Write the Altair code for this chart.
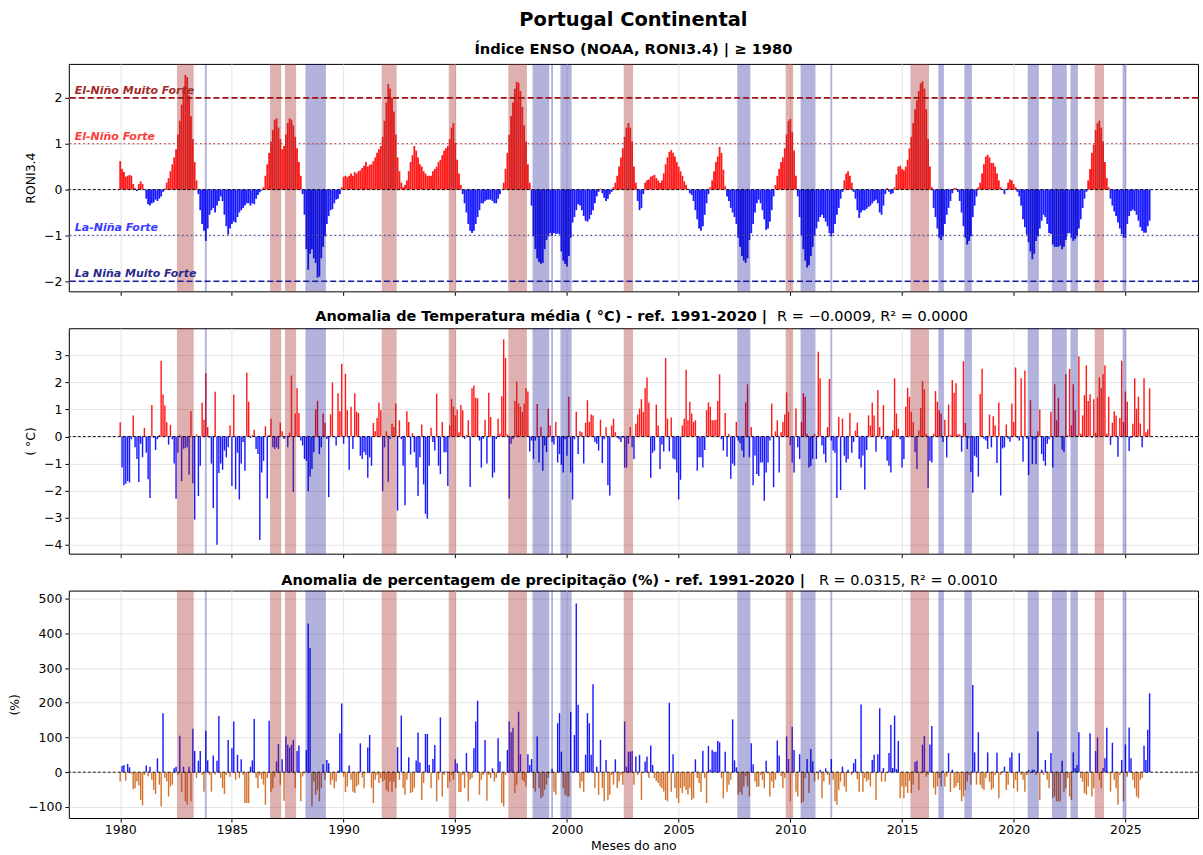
import altair as alt
import pandas as pd

# ---------------- data (monthly, Jan 1980 .. Feb 2026) ----------------
RONI = [
    [0.62, 0.45, 0.38, 0.28, 0.3, 0.32, 0.3, 0.12, 0.03, -0.03, 0.12, 0.18],        # 1980
    [0.12, 0.0, -0.2, -0.32, -0.35, -0.3, -0.28, -0.22, -0.25, -0.2, -0.15, -0.05],  # 1981
    [0.02, 0.15, 0.25, 0.4, 0.55, 0.7, 0.88, 1.2, 1.5, 1.85, 2.2, 2.5],
    [2.45, 2.05, 1.6, 1.1, 0.6, 0.2, -0.1, -0.45, -0.75, -0.9, -1.12, -0.85],
    [-0.55, -0.45, -0.4, -0.5, -0.35, -0.25, -0.15, -0.25, -0.55, -0.8, -0.98, -0.85],
    [-0.75, -0.7, -0.72, -0.6, -0.5, -0.45, -0.4, -0.35, -0.3, -0.3, -0.35, -0.3],
    [-0.32, -0.2, -0.12, -0.06, -0.02, 0.05, 0.3, 0.55, 0.8, 1.05, 1.3, 1.52],
    [1.55, 1.35, 1.1, 0.88, 0.95, 1.2, 1.45, 1.55, 1.52, 1.4, 1.15, 0.9],
    [0.6, 0.3, -0.1, -0.55, -1.3, -1.75, -1.4, -1.3, -1.5, -1.6, -1.92, -1.9],
    [-1.5, -1.25, -1.02, -0.75, -0.58, -0.45, -0.43, -0.3, -0.22, -0.2, -0.1, 0.05],
    [0.28, 0.3, 0.27, 0.3, 0.35, 0.3, 0.38, 0.35, 0.4, 0.42, 0.47, 0.52],            # 1990
    [0.6, 0.5, 0.54, 0.55, 0.62, 0.7, 0.8, 0.88, 0.95, 1.15, 1.5, 1.9],
    [2.3, 2.2, 2.0, 1.7, 1.2, 0.7, 0.4, 0.15, 0.05, 0.1, 0.2, 0.4],
    [0.6, 0.75, 0.95, 0.85, 0.7, 0.55, 0.5, 0.4, 0.35, 0.3, 0.3, 0.3],
    [0.4, 0.45, 0.5, 0.6, 0.65, 0.75, 0.85, 0.9, 0.95, 1.1, 1.35, 1.45],
    [1.02, 0.65, 0.35, 0.1, -0.1, -0.3, -0.5, -0.75, -0.9, -0.95, -0.9, -0.75],
    [-0.6, -0.45, -0.3, -0.3, -0.25, -0.22, -0.22, -0.22, -0.25, -0.3, -0.3, -0.2],
    [-0.1, 0.0, 0.15, 0.45, 0.8, 1.2, 1.6, 1.9, 2.2, 2.35, 2.33, 2.15],
    [1.8, 1.4, 1.05, 0.55, 0.15, -0.35, -1.02, -1.3, -1.5, -1.58, -1.62, -1.6],
    [-1.3, -1.1, -1.02, -0.95, -1.01, -0.95, -0.97, -0.96, -0.98, -1.35, -1.55, -1.62],
    [-1.68, -1.45, -1.05, -0.72, -0.6, -0.45, -0.32, -0.35, -0.45, -0.58, -0.68, -0.7],  # 2000
    [-0.65, -0.55, -0.45, -0.3, -0.15, -0.05, 0.02, -0.08, -0.18, -0.25, -0.2, -0.1],
    [-0.05, 0.05, 0.15, 0.3, 0.5, 0.7, 0.9, 1.15, 1.35, 1.45, 1.35, 1.05],
    [0.5, 0.15, -0.25, -0.45, -0.4, -0.1, 0.15, 0.2, 0.22, 0.28, 0.3, 0.32],
    [0.25, 0.2, 0.15, 0.2, 0.35, 0.55, 0.7, 0.82, 0.86, 0.8, 0.72, 0.6],
    [0.5, 0.4, 0.3, 0.18, 0.1, 0.02, -0.08, -0.12, -0.25, -0.45, -0.65, -0.85],
    [-0.9, -0.8, -0.55, -0.3, -0.1, 0.05, 0.2, 0.4, 0.6, 0.72, 0.93, 0.8],
    [0.43, 0.07, -0.15, -0.25, -0.4, -0.5, -0.6, -0.75, -1.05, -1.25, -1.45, -1.55],
    [-1.6, -1.5, -1.1, -0.95, -0.75, -0.5, -0.3, -0.22, -0.3, -0.45, -0.65, -0.88],
    [-0.85, -0.7, -0.45, -0.15, 0.1, 0.3, 0.45, 0.6, 0.7, 0.9, 1.2, 1.5],
    [1.54, 1.25, 0.85, 0.3, -0.15, -0.6, -1.0, -1.3, -1.55, -1.7, -1.65, -1.45],     # 2010
    [-1.25, -1.0, -0.85, -0.7, -0.6, -0.55, -0.62, -0.7, -0.8, -0.95, -1.02, -0.95],
    [-0.75, -0.55, -0.4, -0.2, -0.05, 0.2, 0.35, 0.4, 0.3, 0.15, -0.05, -0.2],
    [-0.45, -0.62, -0.5, -0.45, -0.45, -0.42, -0.38, -0.35, -0.3, -0.25, -0.22, -0.3],
    [-0.5, -0.55, -0.35, -0.1, 0.03, -0.05, -0.1, -0.08, 0.05, 0.33, 0.5, 0.52],
    [0.45, 0.42, 0.5, 0.65, 0.9, 1.15, 1.45, 1.75, 1.95, 2.15, 2.32, 2.36],
    [2.2, 1.75, 1.1, 0.5, 0.05, -0.4, -0.6, -0.85, -1.05, -1.1, -1.02, -0.75],
    [-0.55, -0.4, -0.25, -0.08, 0.03, 0.03, -0.05, -0.25, -0.5, -0.8, -1.05, -1.2],
    [-1.12, -1.02, -0.6, -0.35, -0.15, 0.05, 0.15, 0.35, 0.55, 0.72, 0.76, 0.7],
    [0.58, 0.58, 0.5, 0.35, 0.2, 0.05, 0.01, -0.1, 0.02, 0.15, 0.22, 0.2],
    [0.12, 0.05, -0.05, -0.15, -0.35, -0.65, -0.82, -0.98, -1.15, -1.35, -1.52, -1.4],  # 2020
    [-1.12, -1.02, -0.85, -0.68, -0.55, -0.6, -0.75, -0.95, -0.97, -1.2, -1.25, -1.25],
    [-1.25, -1.22, -1.3, -1.25, -1.1, -0.96, -0.95, -1.05, -1.12, -1.08, -1.02, -0.85],
    [-0.65, -0.4, -0.2, -0.05, 0.2, 0.45, 0.8, 0.98, 1.3, 1.45, 1.5, 1.35],
    [1.05, 0.6, 0.25, 0.05, -0.2, -0.35, -0.48, -0.58, -0.72, -0.85, -0.97, -1.05],
    [-1.05, -0.75, -0.58, -0.47, -0.44, -0.47, -0.55, -0.68, -0.82, -0.9, -0.94, -0.94],
    [-0.8, -0.68],                                                                   # 2026
]

TEMP = [
    [0.53, -1.15, -1.8, -1.75, -1.65, -1.7, -0.1, 0.78, -0.4, -0.83, -1.68, -0.27],
    [-0.77, 0.32, -0.6, -1.58, -2.27, 1.16, -0.05, -0.5, -0.1, 0.05, 2.8, 1.55],
    [1.15, 0.53, -0.3, 0.43, -0.1, -1.0, -2.3, -0.6, 0.05, -1.65, -0.45, -0.43],
    [-0.4, -1.4, 0.93, -1.73, -3.07, 0.07, -2.2, -1.08, 1.25, 0.62, 2.34, 0.35],
    [-0.05, -1.0, -2.64, 1.65, -4.0, -1.35, -1.0, -1.23, -0.52, -0.77, -0.4, 0.41],
    [-1.83, 1.55, -1.95, -0.6, -2.33, -1.0, -0.2, -1.27, 2.36, 1.28, -0.05, 0.05],
    [0.25, -0.46, -0.65, -3.82, -1.33, -0.9, 0.38, -2.29, 0.06, 0.66, -0.4, -0.46],
    [-0.4, -0.46, 0.51, 0.19, -0.09, -0.03, -0.4, 0.14, 2.25, -2.05, 0.85, 1.78],
    [0.87, -0.15, -0.33, -0.83, -0.9, -2.02, -1.48, -1.2, -0.58, 1.0, 1.32, -0.65],
    [-0.4, 0.85, 0.51, -0.09, -2.24, 0.82, 2.0, -0.03, -0.33, 1.6, 0.93, 2.69],
    [-0.27, 2.32, 0.97, -1.23, 1.1, -0.46, 1.6, 0.91, 0.87, -0.71, -0.83, -0.58],
    [-0.68, -1.52, -0.77, -1.08, 0.5, 0.19, 0.68, 1.26, 0.97, -2.02, -0.4, 0.19],
    [-1.67, -0.09, 0.47, 0.35, 1.22, -2.74, 0.6, -0.09, -1.08, -2.54, 0.93, 0.54],
    [-0.67, 0.12, -0.58, -1.15, -2.2, -0.77, 0.44, -1.77, -2.86, -3.04, -1.08, 0.32],
    [-0.2, -0.52, 1.58, -1.08, -1.39, 0.54, -0.58, -0.58, -1.83, 0.41, 1.38, 1.1],
    [0.78, 1.0, 0.16, 1.16, 0.97, -0.09, 0.05, 0.6, -1.87, 1.78, 1.88, 1.43],
    [1.41, -0.15, -1.15, -0.09, 0.62, -1.0, 1.62, 0.72, -1.52, -1.33, -0.09, 0.66],
    [0.1, 1.49, 3.59, 2.9, 0.07, -2.29, -0.27, -0.09, 1.31, 2.03, 1.22, 1.1],
    [0.91, 1.22, 1.78, 1.66, -0.55, -0.15, -0.83, -0.15, 1.2, -0.96, 0.35, -1.27],
    [-0.33, -0.58, 1.03, 0.41, -0.2, -0.3, 0.54, -0.96, -0.65, -1.05, -1.33, -0.1],
    [-0.71, 1.47, -1.33, -2.33, -0.1, 0.91, -0.65, 0.19, 0.16, -1.0, 0.51, 1.34],
    [0.54, 0.81, 0.78, -0.2, -0.27, -0.52, 0.62, -0.98, -0.1, 0.35, -1.8, -2.18],
    [0.41, 0.66, 0.16, -0.05, -0.1, -0.2, -0.05, -1.15, -1.15, -0.27, 0.35, -0.4],
    [-0.83, 0.47, 0.81, 1.03, 1.38, 0.91, 1.78, 2.18, 1.26, -1.52, -0.6, -0.52],
    [1.18, 0.41, -1.2, -0.3, -0.55, 2.9, 0.66, -0.55, 0.7, -0.81, -0.85, -1.33],
    [-2.33, -1.6, 0.41, 0.66, 2.47, 0.6, 1.28, 0.85, 0.54, 0.6, -1.27, -0.77],
    [-0.77, -1.15, -0.5, 0.97, 1.26, 1.1, 0.6, 0.6, 0.62, 1.31, 2.3, -0.1],
    [-0.52, 0.87, -0.75, 0.1, -1.56, -1.0, -1.08, 0.54, -0.15, -0.25, -0.52, -0.77],
    [1.26, 1.93, -0.77, 0.35, -1.8, -0.7, -1.39, -1.46, -0.96, -0.96, -2.37, -1.33],
    [-0.96, -0.15, 1.22, -1.87, 0.19, 0.6, -1.33, 0.16, 0.54, 0.81, 1.63, 0.91],
    [-0.33, -0.96, -1.33, 1.03, -0.4, -0.83, 0.54, 1.6, 1.47, 0.1, -1.15, -1.08],
    [-0.83, 0.1, -0.83, 3.13, 2.15, -0.33, -0.65, -0.96, 0.35, 2.13, -0.15, -0.52],
    [-0.6, -2.27, 0.72, -1.98, 0.66, -0.71, -0.96, -0.83, 0.88, -0.6, -0.2, 0.22],
    [0.51, -0.83, -1.15, -0.7, -1.96, -0.5, 0.78, 0.41, 1.26, 0.78, -0.56, 1.72],
    [0.35, -0.1, 1.16, -0.1, -0.9, -1.08, -1.33, 0.22, 2.15, 0.85, 0.29, -0.1],
    [-1.15, -0.83, 1.1, 1.8, 1.47, 0.91, 0.54, -0.58, -1.2, 0.22, 1.06, 2.05],
    [1.74, 0.1, -1.89, -0.9, -0.96, 0.1, 1.68, 1.28, 0.97, 0.85, -0.2, 0.62],
    [-0.77, 1.18, 0.05, 2.09, 1.62, 1.97, 0.08, 0.08, -0.56, 2.78, 0.5, -0.46],
    [-0.05, -1.31, -2.08, -0.71, -0.77, -1.48, 1.57, 2.5, -0.08, -0.15, -0.46, 0.81],
    [-0.4, 0.75, 0.41, -0.98, 1.26, -2.18, -0.44, -0.4, 0.44, -0.08, -0.19, 1.22],
    [0.54, 2.55, -0.05, -0.15, 2.15, -0.93, 2.44, -0.08, -1.43, 1.34, -1.02, -0.1],
    [-1.02, 0.19, 1.0, -0.65, -0.9, -1.08, -0.27, -0.1, 0.91, -1.15, 1.93, 0.6],
    [1.43, -0.03, -0.49, -0.58, 2.3, 0.04, 2.5, 0.41, 1.93, 0.97, 0.04, 2.96],
    [0.1, 0.78, 1.53, 2.63, 1.31, 1.56, -0.05, 1.38, 0.14, 1.44, 2.18, 1.78],
    [2.3, 2.63, 0.1, 1.47, -0.31, 0.51, 0.93, 0.78, -0.75, 0.68, 2.8, 0.54],
    [1.66, 1.28, -0.54, -0.05, 0.47, 2.15, 1.03, 1.47, 0.48, -0.4, 2.15, 0.16],
    [0.26, 1.78],
]

PREC = [
    [-27, 18, 21, -25, 24, 14, -5, -49, -46, -27, -38, -80],
    [-96, -8, 19, -12, 16, -22, -51, -63, 40, -36, -99, 170],
    [-17, -27, -70, -41, -36, 11, 16, -8, 105, -56, 16, -84],
    [-94, 16, -84, 125, 61, -17, 33, 61, -8, -56, 119, 34],
    [-8, -56, 48, -7, 33, 162, -17, -46, -63, -8, 93, -13],
    [69, 146, -22, 50, -17, 37, -8, -89, -89, -89, 16, 34],
    [153, -17, -46, -8, -20, -36, -94, -17, 148, -56, -46, -13],
    [31, 81, -36, 37, -82, 103, 79, 71, 79, 93, -46, 61],
    [77, -84, -12, -3, 64, 428, 358, -99, -27, -65, -51, -84],
    [-46, 23, -22, 35, 26, -36, -22, -46, -27, 4, 112, 198],
    [-13, -57, -41, 19, -22, -56, -60, -41, -36, 83, -15, -46],
    [-3, 71, 107, -46, -89, -22, -8, -31, -17, -27, -22, -51],
    [-56, -27, -57, -27, -46, 72, -22, 163, -46, -65, -22, 43],
    [-60, -57, -46, 34, 114, 28, -80, -31, 110, 110, 21, -46],
    [38, 78, -84, -22, 158, -70, -8, 2, -46, -27, -8, -22],
    [37, 26, -57, -57, -8, -46, 55, -84, -22, -17, 69, 146],
    [206, -65, -22, -8, 93, -82, -8, -17, 11, -27, -17, 98],
    [31, -89, -99, -8, 64, 146, 115, 128, -60, -36, 174, 52],
    [-22, -27, -41, 52, 21, 38, -46, -56, 103, -46, -75, -70],
    [-51, -36, -17, -3, 10, -56, -65, 141, 170, 59, -46, -65],
    [-70, -70, 174, 2, 107, 486, 194, -46, -27, -56, 50, 170],
    [141, 50, 253, -46, 16, -65, 93, -46, -84, 35, -81, -65],
    [-8, -36, 37, -46, -27, -8, -36, 146, 16, 59, 59, 61],
    [-36, 45, -8, 50, -80, -3, 31, 45, -17, 77, 21, -17],
    [-25, -31, -41, -46, -56, -80, -84, 200, -56, 52, -46, -75],
    [-89, -46, -60, -41, -51, -65, -46, -80, -75, 37, -17, -31],
    [-56, 62, -17, -89, 76, 7, 64, 59, 59, 90, 86, -17],
    [-75, 59, -56, -36, -22, 152, 34, 14, -65, -56, -65, -41],
    [-12, -41, -70, 83, 23, -27, -43, -41, -8, -22, -46, 33],
    [-3, -70, -27, -46, -22, 91, 48, -12, -46, -17, 103, 38],
    [-84, 131, 64, -56, -70, 52, -89, -84, -17, 38, -60, 67],
    [31, -27, -3, -22, 7, -75, -27, 11, -8, -36, 38, -22],
    [-84, -94, -51, -27, 16, -41, -56, 7, -3, -8, 26, 38],
    [-20, -56, 195, -56, -17, -27, -22, -41, 35, 50, -80, 52],
    [184, -27, 12, -27, -3, 55, 136, 12, 163, 9, 90, -75],
    [-41, -75, -41, -60, -25, -60, -36, 29, 33, -51, -3, 79],
    [104, -13, -8, 80, 133, -46, -65, -41, -17, -41, 4, -41],
    [-13, 55, -57, 7, -46, -41, -31, -51, -84, -70, -51, -27],
    [-8, -36, 251, 57, -36, 115, -36, -46, -51, -17, 57, -27],
    [-51, -46, -8, 56, -75, -8, 2, 16, -51, -36, 42, 57],
    [-46, -22, -56, 55, -8, -22, -56, -8, 7, -3, 7, 7],
    [-8, 117, -80, 7, -8, 35, -22, -46, 55, -75, -70, -84],
    [-84, -84, 33, -56, -46, -17, -70, -80, 57, 11, 21, 115],
    [-17, -27, -60, -65, -41, 112, -70, -46, 61, 100, -22, -46],
    [12, 40, 128, -3, -56, 85, -22, -46, -94, -8, 35, -84],
    [80, -13, 129, 40, -22, -46, -70, -75, -22, -17, 76, 35],
    [122, 227],
]

X_TICKS = [1980, 1985, 1990, 1995, 2000, 2005, 2010, 2015, 2020, 2025]
Y1_TICKS = [-2, -1, 0, 1, 2]
Y2_TICKS = [-4, -3, -2, -1, 0, 1, 2, 3]
Y3_TICKS = [-100, 0, 100, 200, 300, 400, 500]
LEVELS = {"muito_nino": 2, "nino": 1, "nina": -1, "muito_nina": -2}


def flat(rows):
    return [v for r in rows for v in r]


roni, temp, prec = flat(RONI), flat(TEMP), flat(PREC)
n = len(roni)
assert len(temp) == n and len(prec) == n, (len(roni), len(temp), len(prec))
t = [1980 + i / 12 for i in range(n)]
df = pd.DataFrame({"t": t, "roni": roni, "temp": temp, "prec": prec})
df["zero"] = 0.0


def runs(flags):
    out, s = [], None
    for i, f in enumerate(flags):
        if f and s is None:
            s = i
        elif not f and s is not None:
            out.append((s, i - 1))
            s = None
    if s is not None:
        out.append((s, len(flags) - 1))
    return out


band_rows = []
for kind, flags in (("nino", [v >= 1.0 for v in roni]), ("nina", [v <= -1.0 for v in roni])):
    for a, b in runs(flags):
        band_rows.append({"kind": kind, "t0": t[a] - 1 / 24, "t1": t[b] + 1 / 24})
bands = pd.DataFrame(band_rows)
one = pd.DataFrame({"k": [0]})

# ---------------- styling ----------------
W = 1132
XDOM = [1977.7, 2028.25]
FS = 12.5
GRID = "#e4e4e4"
MINUS = "replace(datum.label, '-', '\u2212')"


class Panel:
    """Holds the shared x / y scale+axis definitions of one subplot, so every layer uses the same."""

    def __init__(self, ydom, yvals, ytitle, title_x, h, labels):
        self.h = h
        self.xscale = alt.Scale(domain=XDOM, nice=False, zero=False)
        self.xaxis = alt.Axis(values=X_TICKS, format="d", grid=True, gridColor=GRID, labels=labels,
                              labelOverlap=False, ticks=True, tickSize=4, tickColor="black",
                              domain=False, labelFontSize=FS, labelColor="black", labelPadding=2,
                              title="Meses do ano" if labels else "", titleFontSize=FS,
                              titleFontWeight="normal", titleColor="black", titlePadding=3)
        self.yscale = alt.Scale(domain=ydom, nice=False, zero=False)
        self.yaxis = alt.Axis(values=yvals, format="d", grid=True, gridColor=GRID, tickSize=4,
                              tickColor="black", domain=False, labelFontSize=FS,
                              labelColor="black", labelOverlap=False, labelPadding=3,
                              labelExpr=MINUS, title=ytitle, titleX=title_x, titleY=h / 2,
                              titleAngle=270, titleAlign="center", titleBaseline="middle",
                              titleFontSize=FS, titleFontWeight="normal", titleColor="black")

    def x(self, field):
        return alt.X(f"{field}:Q", scale=self.xscale, axis=self.xaxis)

    def y(self, field):
        return alt.Y(f"{field}:Q", scale=self.yscale, axis=self.yaxis)

    def ydatum(self, v):
        return alt.YDatum(v, scale=self.yscale, axis=self.yaxis)

    def bars(self, field, pos, neg, half_w):
        return alt.Chart(df).transform_calculate(
            x0=f"datum.t - {half_w}", x1=f"datum.t + {half_w}"
        ).mark_bar().encode(
            x=self.x("x0"), x2="x1:Q", y=self.y(field), y2="zero:Q",
            color=alt.condition(f"datum.{field} >= 0", alt.value(pos), alt.value(neg)),
        )

    def bands(self):
        out = []
        for kind, col, op in (("nino", "#a52a2a", 0.37), ("nina", "#00008b", 0.30)):
            out.append(alt.Chart(bands).transform_filter(f"datum.kind == '{kind}'").mark_rect(
                color=col, opacity=op).encode(x=self.x("t0"), x2="t1:Q",
                                             y=alt.value(0), y2=alt.value(self.h)))
        return out

    def rule(self, v, color, dash, width):
        return alt.Chart(one).mark_rule(color=color, strokeDash=dash, strokeWidth=width).encode(
            y=self.ydatum(v))


def title_text(txt, x, y, align, weight, size=14.5):
    return alt.Chart(one).mark_text(align=align, baseline="middle", fontWeight=weight,
                                    fontSize=size, color="black").encode(
        x=alt.value(x), y=alt.value(y), text=alt.value(txt))


H1, H2, H3 = 228, 226, 228

# ---------------- panel 1: ENSO ----------------
P1 = Panel([-2.22, 2.74], Y1_TICKS, "RONI3.4", -38, H1, False)
p1_layers = [P1.bars("roni", "#ff1a1a", "#1a1aff", 0.0405)]
p1_layers += P1.bands()
for key, col, dash, wdt in (("muito_nino", "#a01010", [6, 3], 1.6), ("nino", "#c84040", [1.5, 3], 1.3),
                            ("nina", "#4a4aa8", [1.5, 3], 1.3), ("muito_nina", "#1c1ca0", [6, 3], 1.6)):
    p1_layers.append(P1.rule(LEVELS[key], col, dash, wdt))
p1_layers.append(P1.rule(0, "black", [3, 2], 0.9))
for key, txt, col in (("muito_nino", "El-Niño Muito Forte", "#a52a2a"),
                      ("nino", "El-Niño Forte", "#ff3b3b"),
                      ("nina", "La-Niña Forte", "#3b3bff"),
                      ("muito_nina", "La Niña Muito Forte", "#2a2a8c")):
    p1_layers.append(alt.Chart(one).mark_text(align="left", baseline="bottom", dy=-2,
                                              fontStyle="italic", fontWeight="bold",
                                              fontSize=11, color=col).encode(
        x=alt.value(6), y=P1.ydatum(LEVELS[key]), text=alt.value(txt)))
p1_layers.append(title_text("Portugal Continental", W / 2, -44, "center", "bold", 19.5))
p1_layers.append(title_text("Índice ENSO (NOAA, RONI3.4) | \u2265 1980", W / 2, -14, "center", "bold", 14.7))
p1 = alt.layer(*p1_layers).properties(width=W, height=H1)

# ---------------- panel 2: temperature ----------------
P2 = Panel([-4.33, 4.0], Y2_TICKS, "( °C)", -38, H2, False)
p2_layers = [P2.bars("temp", "#ff1a1a", "#1a1aff", 0.032)]
p2_layers += P2.bands()
p2_layers.append(P2.rule(0, "black", [3, 2], 0.9))
p2_layers.append(title_text("Anomalia de Temperatura média ( °C) - ref. 1991-2020  |", 700, -11, "right", "bold"))
p2_layers.append(title_text("R = \u22120.0009, R² = 0.0000", 710, -11, "left", "normal"))
p2 = alt.layer(*p2_layers).properties(width=W, height=H2)

# ---------------- panel 3: precipitation ----------------
P3 = Panel([-132, 523], Y3_TICKS, "(%)", -54, H3, True)
p3_layers = [P3.bars("prec", "#1a1aff", "#d4742e", 0.032)]
p3_layers += P3.bands()
p3_layers.append(P3.rule(0, "black", [3, 2], 0.9))
p3_layers.append(title_text("Anomalia de percentagem de precipitação (%) - ref. 1991-2020  |", 738, -10, "right", "bold"))
p3_layers.append(title_text("R = 0.0315, R² = 0.0010", 752, -10, "left", "normal"))
p3 = alt.layer(*p3_layers).properties(width=W, height=H3)

chart = alt.vconcat(p1, p2, p3, spacing=37, bounds="flush").resolve_scale(
    y="independent"
).properties(
    padding={"left": 8, "top": 8, "right": 3, "bottom": 0}, background="white"
).configure(font="DejaVu Sans").configure_view(stroke="black", strokeWidth=1)

chart.save("out.html", embed_options={"renderer": "svg", "actions": False})
